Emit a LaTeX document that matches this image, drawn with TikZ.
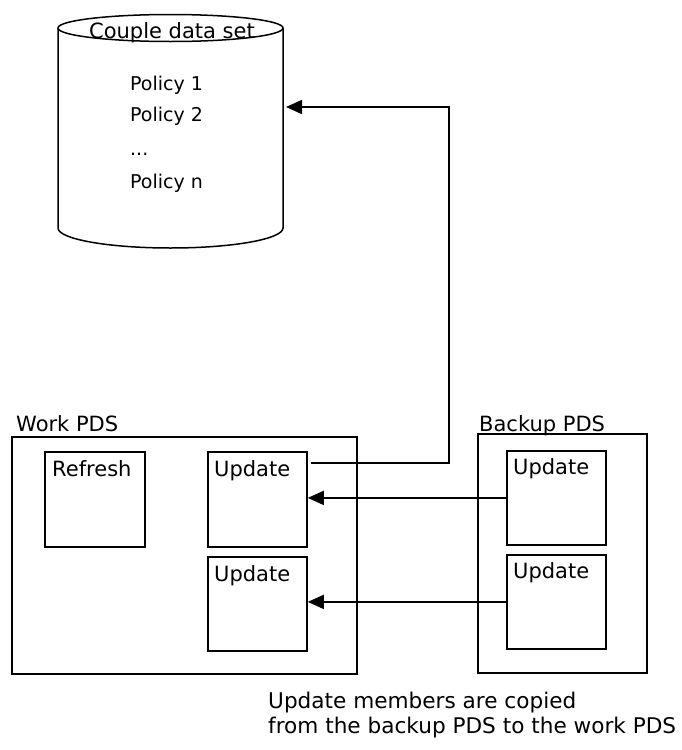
\documentclass[tikz,border=0pt]{standalone}
\usepackage{fontspec}
\setmainfont{DejaVu Sans}
\usetikzlibrary{arrows.meta,calc}
\begin{document}
\begin{tikzpicture}[x=1pt,y=-1pt,line join=miter,
  box/.style={draw,line width=1.8pt,anchor=north west,inner sep=0pt},
  lbl/.style={font=\fontsize{21}{25}\selectfont,inner sep=0pt,anchor=base west},
  caplbl/.style={font=\fontsize{21.6}{25}\selectfont,inner sep=0pt,anchor=base west},
  pol/.style={font=\fontsize{19}{23}\selectfont,inner sep=0pt,anchor=base west},
  conn/.style={line width=1.8pt,-{Triangle[length=16pt,width=14pt]}}]
\useasboundingbox (0,0) rectangle (681,750);
% cylinder
\draw[line width=1.5pt] (170.5,28) ellipse [x radius=112.5pt, y radius=13.5pt];
\draw[line width=1.5pt] (58,28) -- (58,228) arc[start angle=180,end angle=360,x radius=112.5pt,y radius=20pt] -- (283,28);
\node[lbl,anchor=base] (title) at (172,38) {Couple data set};
\node[pol] (p1) at (130,90) {Policy 1};
\node[pol] (p2) at (130,121) {Policy 2};
\node[pol] (p3) at (130,155) {...};
\node[pol] (pn) at (130,188) {Policy n};
\coordinate (cylR) at (286,107);
% work PDS
\node[box,minimum width=345pt,minimum height=237pt] (work) at (11,436) {};
\node[lbl] (worklbl) at (16,431) {Work PDS};
\node[box,minimum width=100pt,minimum height=95pt] (refresh) at (44,451) {};
\node[lbl] (refreshlbl) at ($(refresh.north west)+(8,25)$) {Refresh};
\node[box,minimum width=99pt,minimum height=95pt] (wu1) at (207,451) {};
\node[lbl] (wu1lbl) at ($(wu1.north west)+(7,25)$) {Update};
\node[box,minimum width=99pt,minimum height=94pt] (wu2) at (207,556) {};
\node[lbl] (wu2lbl) at ($(wu2.north west)+(7,25)$) {Update};
% backup PDS
\node[box,minimum width=169pt,minimum height=239pt] (backup) at (477,433) {};
\node[lbl] (backuplbl) at (479,431) {Backup PDS};
\node[box,minimum width=99pt,minimum height=94pt] (bu1) at (506,450) {};
\node[lbl] (bu1lbl) at ($(bu1.north west)+(7,24)$) {Update};
\node[box,minimum width=99pt,minimum height=94pt] (bu2) at (506,554) {};
\node[lbl] (bu2lbl) at ($(bu2.north west)+(7,24)$) {Update};
% connectors
\coordinate (start) at ($(wu1.north east)+(3,12)$);
\coordinate (bend) at (449,463);
\draw[conn] (start) -- (bend) |- (cylR);
\draw[conn] (bu1.west) -- (bu1.west -| wu1.east);
\draw[conn] (bu2.west) -- (bu2.west -| wu2.east);
% caption
\node[caplbl] (cap1) at (268,708) {Update members are copied};
\node[caplbl] (cap2) at (268,733) {from the backup PDS to the work PDS};
\end{tikzpicture}
\end{document}
